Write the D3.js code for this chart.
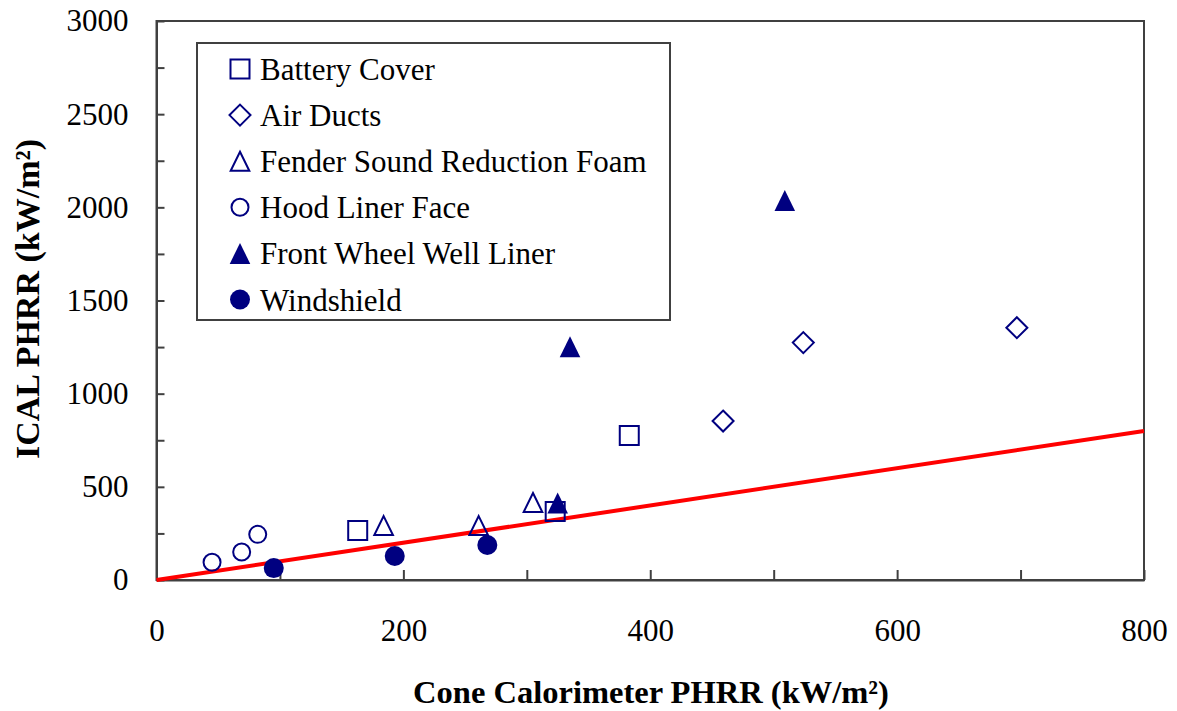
<!DOCTYPE html>
<html>
<head>
<meta charset="utf-8">
<script src="https://cdn.jsdelivr.net/npm/d3@7"></script>
<style>
  html, body { margin: 0; padding: 0; background: #fff; }
  svg { display: block; font-family: "Liberation Serif", "Times New Roman", serif; }
</style>
</head>
<body>
<svg id="chart" width="1177" height="711"></svg>
<script>
// Peak heat release rate: cone calorimeter vs. ICAL, per vehicle component
const batteryCover = [[163, 266], [323, 368], [383, 776]];
const airDucts = [[459, 853], [524, 1274], [697, 1354]];
const fenderFoam = [[184, 292], [261, 292], [305, 416]];
const hoodLiner = [[45, 95], [69, 150], [82, 245]];
const wheelWellLiner = [[325, 413], [335, 1252], [509, 2037]];
const windshield = [[95, 64], [193, 129], [268, 188]];

const seriesNames = ["Battery Cover", "Air Ducts", "Fender Sound Reduction Foam",
  "Hood Liner Face", "Front Wheel Well Liner", "Windshield"];

const xTicks = [0, 100, 200, 300, 400, 500, 600, 700, 800];
const xTickLabels = [0, 200, 400, 600, 800];
const yTicks = [0, 250, 500, 750, 1000, 1250, 1500, 1750, 2000, 2250, 2500, 2750, 3000];
const yTickLabels = [0, 500, 1000, 1500, 2000, 2500, 3000];

// y = x reference line
const equalityLine = [[0, 0], [800, 800]];

const NAVY = "#000080";
const SERIF = "Liberation Serif, Times New Roman, serif";

// Marker shapes centred on their bounding box
const squareShape = { draw(ctx, size) { const h = Math.sqrt(size) / 2; ctx.rect(-h, -h, 2 * h, 2 * h); } };
const diamondShape = { draw(ctx, size) { const h = Math.sqrt(size) / 2; ctx.moveTo(0, -h); ctx.lineTo(h, 0); ctx.lineTo(0, h); ctx.lineTo(-h, 0); ctx.closePath(); } };
const triangleShape = { draw(ctx, size) { const h = Math.sqrt(size) / 2; ctx.moveTo(0, -h); ctx.lineTo(h * 0.98, h); ctx.lineTo(-h * 0.98, h); ctx.closePath(); } };
const circleShape = { draw(ctx, size) { const r = Math.sqrt(size) / 2; ctx.moveTo(r, 0); ctx.arc(0, 0, r, 0, 2 * Math.PI); } };

const series = [
  { name: seriesNames[0], data: batteryCover, shape: squareShape, size: 19 * 19, filled: false },
  { name: seriesNames[1], data: airDucts, shape: diamondShape, size: 21 * 21, filled: false },
  { name: seriesNames[2], data: fenderFoam, shape: triangleShape, size: 19 * 19, filled: false },
  { name: seriesNames[3], data: hoodLiner, shape: circleShape, size: 17 * 17, filled: false },
  { name: seriesNames[4], data: wheelWellLiner, shape: triangleShape, size: 21 * 21, filled: true },
  { name: seriesNames[5], data: windshield, shape: circleShape, size: 20 * 20, filled: true }
];

const svg = d3.select("#chart");
const plotLeft = 156.5, plotRight = 1144, plotTop = 21, plotBottom = 580;

const x = d3.scaleLinear().domain([0, 800]).range([plotLeft, plotRight]);
const y = d3.scaleLinear().domain([0, 3000]).range([plotBottom, plotTop]);

const AXIS = "#404040";

// Plot frame
svg.append("rect")
  .attr("x", plotLeft).attr("y", plotTop)
  .attr("width", plotRight - plotLeft).attr("height", plotBottom - plotTop)
  .attr("fill", "none").attr("stroke", AXIS).attr("stroke-width", 2);

// X axis with inward ticks
const xAxis = svg.append("g")
  .attr("transform", `translate(0,${plotBottom})`)
  .call(d3.axisBottom(x).tickValues(xTicks).tickSizeInner(-10).tickSizeOuter(0).tickPadding(39)
    .tickFormat(d => xTickLabels.includes(d) ? d : ""));
xAxis.select(".domain").attr("stroke", AXIS).attr("stroke-width", 2);
xAxis.selectAll(".tick line").attr("stroke", AXIS).attr("stroke-width", 2);
xAxis.selectAll(".tick text").attr("font-size", 31).attr("fill", "#000")
  .attr("font-family", SERIF);

// Y axis with inward ticks
const yAxis = svg.append("g")
  .attr("transform", `translate(${plotLeft},0)`)
  .call(d3.axisLeft(y).tickValues(yTicks).tickSizeInner(-8).tickSizeOuter(0).tickPadding(28)
    .tickFormat(d => yTickLabels.includes(d) ? d : ""));
yAxis.select(".domain").attr("stroke", AXIS).attr("stroke-width", 2);
yAxis.selectAll(".tick line").attr("stroke", AXIS).attr("stroke-width", 2);
yAxis.selectAll(".tick text").attr("font-size", 31).attr("fill", "#000")
  .attr("font-family", SERIF);

// Axis titles
svg.append("text")
  .attr("x", 651).attr("y", 703)
  .attr("text-anchor", "middle")
  .attr("font-size", 32.5).attr("font-weight", "bold")
  .text("Cone Calorimeter PHRR (kW/m²)");

svg.append("text")
  .attr("transform", "translate(39,299) rotate(-90)")
  .attr("text-anchor", "middle")
  .attr("font-size", 34).attr("font-weight", "bold")
  .text("ICAL PHRR (kW/m²)");

// Equality line
svg.append("path")
  .datum(equalityLine)
  .attr("d", d3.line().x(d => x(d[0])).y(d => y(d[1])))
  .attr("stroke", "#ff0000").attr("stroke-width", 4).attr("fill", "none");

// Data markers
const symbol = d3.symbol();
series.forEach(s => {
  svg.append("g").selectAll("path")
    .data(s.data)
    .join("path")
    .attr("transform", d => `translate(${x(d[0])},${y(d[1])})`)
    .attr("d", symbol.type(s.shape).size(s.size)())
    .attr("fill", s.filled ? NAVY : "none")
    .attr("stroke", NAVY)
    .attr("stroke-width", s.filled ? 0 : 2);
});

// Legend
const legend = svg.append("g");
legend.append("rect")
  .attr("x", 197).attr("y", 43).attr("width", 473).attr("height", 277)
  .attr("fill", "#fff").attr("stroke", AXIS).attr("stroke-width", 2);

const rows = legend.selectAll("g.row")
  .data(series)
  .join("g")
  .attr("class", "row")
  .attr("transform", (d, i) => `translate(0,${69 + i * 46.1})`);

rows.append("path")
  .attr("transform", "translate(240,0)")
  .attr("d", d => symbol.type(d.shape).size(d.size)())
  .attr("fill", d => d.filled ? NAVY : "none")
  .attr("stroke", NAVY)
  .attr("stroke-width", d => d.filled ? 0 : 2);

rows.append("text")
  .attr("x", 260).attr("y", 11)
  .attr("font-size", 31)
  .attr("fill", "#000")
  .text(d => d.name);
</script>
</body>
</html>
